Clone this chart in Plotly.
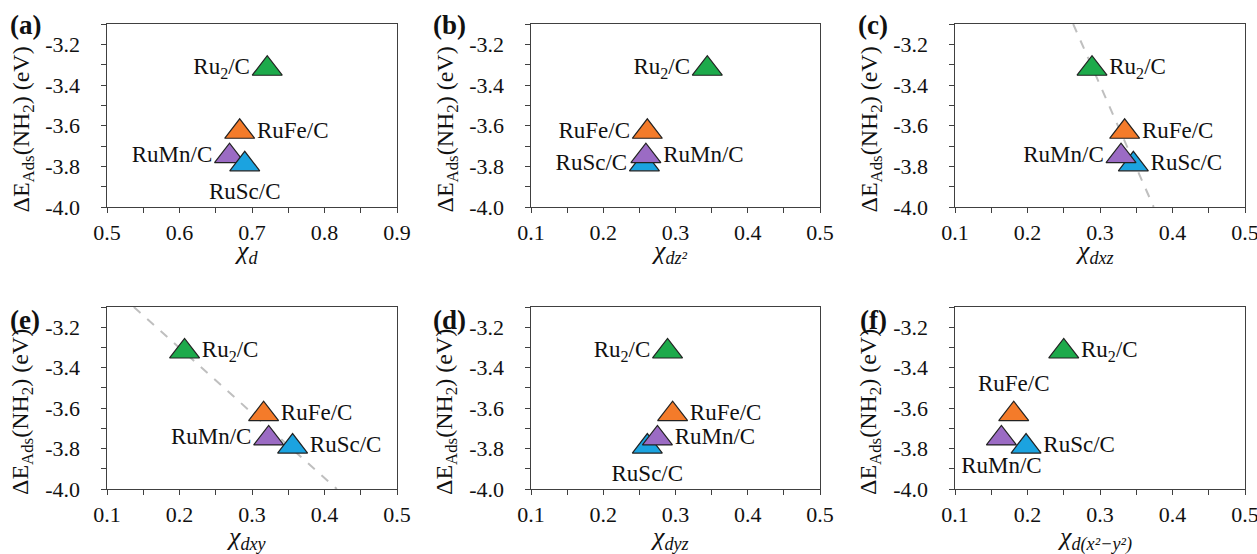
import plotly.graph_objects as go

# ---------------- data ----------------
materials = ["Ru<sub>2</sub>/C", "RuFe/C", "RuMn/C", "RuSc/C"]
colors = ["#1DAA4B", "#F47B2A", "#9B6BC4", "#1BA3E0"]
energy = [-3.32, -3.63, -3.75, -3.79]          # ΔE_Ads(NH2) (eV)

chi_d = [0.721, 0.683, 0.669, 0.690]
chi_dz2 = [0.344, 0.261, 0.259, 0.257]
chi_dxz = [0.289, 0.334, 0.329, 0.346]
chi_dxy = [0.207, 0.316, 0.323, 0.356]
chi_dyz = [0.289, 0.296, 0.275, 0.261]
chi_dx2y2 = [0.250, 0.181, 0.164, 0.198]

# dashed trend lines (panels c and e)
fit_c_x = [0.263, 0.374]
fit_e_x = [0.137, 0.417]
fit_y = [-3.1, -4.0]

panel_labels = ["(a)", "(b)", "(c)", "(e)", "(d)", "(f)"]
x_titles = ["<i>χ<sub>d</sub></i>", "<i>χ<sub>dz²</sub></i>", "<i>χ<sub>dxz</sub></i>",
            "<i>χ<sub>dxy</sub></i>", "<i>χ<sub>dyz</sub></i>", "<i>χ<sub>d(x²−y²)</sub></i>"]
x_ticks_a = [0.5, 0.6, 0.7, 0.8, 0.9]
x_ticks_a_text = ["0.5", "0.6", "0.7", "0.8", "0.9"]
x_ticks = [0.1, 0.2, 0.3, 0.4, 0.5]
x_ticks_text = ["0.1", "0.2", "0.3", "0.4", "0.5"]
y_ticks = [-4.0, -3.8, -3.6, -3.4, -3.2]
y_ticks_text = ["-4.0", "-3.8", "-3.6", "-3.4", "-3.2"]
y_title = "ΔE<sub>Ads</sub>(NH<sub>2</sub>) (eV)"

# index order: Ru2, RuFe, RuMn, RuSc
panels = [
    dict(x=chi_d, pos=["middle left", "middle right", "middle left", "bottom center"],
         order=[0, 1, 2, 3]),
    dict(x=chi_dz2, pos=["middle left", "middle left", "middle right", "middle left"],
         order=[0, 1, 3, 2]),
    dict(x=chi_dxz, pos=["middle right", "middle right", "middle left", "middle right"],
         order=[0, 1, 3, 2]),
    dict(x=chi_dxy, pos=["middle right", "middle right", "middle left", "middle right"],
         order=[0, 1, 3, 2]),
    dict(x=chi_dyz, pos=["middle left", "middle right", "middle right", "bottom center"],
         order=[0, 1, 3, 2]),
    dict(x=chi_dx2y2, pos=["middle right", "top center", "bottom center", "middle right"],
         order=[0, 1, 3, 2]),
]

W, H = 1257, 554
col_px = [(107, 397), (531, 820), (955, 1245)]
row_px = [(24, 207), (307, 489)]
label_y = [25, 320]
xtitle_y = [252, 538]
Y_PAD = "\u2002\u2005"   # gap between y tick labels and the ticks

FONT = "Liberation Serif"
fig = go.Figure()

annotations = []
for i, p in enumerate(panels):
    r, c = divmod(i, 3)
    ax = "" if i == 0 else str(i + 1)
    xref, yref = "x" + ax, "y" + ax
    if i == 2:
        fig.add_trace(go.Scatter(x=fit_c_x, y=fit_y, mode="lines", xaxis=xref, yaxis=yref,
                                 line=dict(color="#BFBFBF", width=2, dash="dash"),
                                 showlegend=False, hoverinfo="skip"))
    if i == 3:
        fig.add_trace(go.Scatter(x=fit_e_x, y=fit_y, mode="lines", xaxis=xref, yaxis=yref,
                                 line=dict(color="#BFBFBF", width=2, dash="dash"),
                                 showlegend=False, hoverinfo="skip"))
    order = p["order"]
    xs = [p["x"][k] for k in order]
    ys = [energy[k] for k in order]
    txt = [materials[k] for k in order]
    cols = [colors[k] for k in order]
    pos = [p["pos"][k] for k in order]
    fig.add_trace(go.Scatter(
        x=xs, y=ys, mode="markers+text", text=txt, textposition=pos,
        xaxis=xref, yaxis=yref, showlegend=False,
        textfont=dict(family=FONT, size=23, color="#111"),
        marker=dict(symbol="triangle-up", size=26, color=cols,
                    line=dict(color="#222", width=1.2)),
    ))
    x0, x1 = col_px[c]
    y0, y1 = row_px[r]
    xdom = [x0 / W, x1 / W]
    ydom = [1 - y1 / H, 1 - y0 / H]
    if i == 0:
        xr, xt, xtt, x_tick0 = [0.5, 0.9], x_ticks_a, x_ticks_a_text, 0.5
    else:
        xr, xt, xtt, x_tick0 = [0.1, 0.5], x_ticks, x_ticks_text, 0.1
    fig.layout["xaxis" + ax] = dict(
        domain=xdom, range=xr, anchor=yref, tickmode="array", tickvals=xt, ticktext=xtt,
        automargin=False, ticklabeloverflow="allow",
        showline=True, mirror=True, linecolor="#404040", linewidth=1.2,
        ticks="outside", ticklen=5, tickcolor="#404040", showgrid=False, zeroline=False,
        tickfont=dict(family=FONT, size=22, color="#111"),
        minor=dict(tickmode="linear", tick0=x_tick0, dtick=0.05, ticks="outside",
                   ticklen=5, tickcolor="#404040", showgrid=False),
        fixedrange=True,
    )
    fig.layout["yaxis" + ax] = dict(
        domain=ydom, range=[-4.0, -3.1], anchor=xref, tickmode="array", tickvals=y_ticks,
        ticktext=[t + Y_PAD for t in y_ticks_text], automargin=False, ticklabeloverflow="allow",
        showline=True, mirror=True, linecolor="#404040", linewidth=1.2,
        ticks="outside", ticklen=5, tickcolor="#404040", showgrid=False, zeroline=False,
        tickfont=dict(family=FONT, size=22, color="#111"),
        minor=dict(tickmode="linear", tick0=-4.0, dtick=0.1, ticks="outside",
                   ticklen=5, tickcolor="#404040", showgrid=False),
        fixedrange=True,
    )
    # panel label
    annotations.append(dict(text="<b>" + panel_labels[i] + "</b>", xref="paper", yref="paper",
                            x=(x0 - 82) / W, y=1 - label_y[r] / H,
                            xanchor="center", yanchor="middle",
                            showarrow=False, font=dict(family=FONT, size=27, color="#111")))
    # y title
    annotations.append(dict(text=y_title, xref="paper", yref="paper", textangle=-90,
                            x=(x0 - 85) / W, y=1 - ((y0 + y1) / 2 + 14) / H,
                            xanchor="center", yanchor="middle", showarrow=False,
                            font=dict(family=FONT, size=24, color="#111")))
    # x title
    annotations.append(dict(text=x_titles[i], xref="paper", yref="paper",
                            x=((x0 + x1) / 2 - 6) / W, y=1 - xtitle_y[r] / H,
                            xanchor="center", yanchor="middle", showarrow=False,
                            font=dict(family=FONT, size=26, color="#111")))

fig.update_layout(width=W, height=H, margin=dict(l=0, r=0, t=0, b=0),
                  paper_bgcolor="white", plot_bgcolor="white",
                  annotations=annotations, showlegend=False)

fig.write_html("out.html", config={"displayModeBar": False},
               post_script="document.body.style.margin='0';document.body.style.overflow='hidden';")
